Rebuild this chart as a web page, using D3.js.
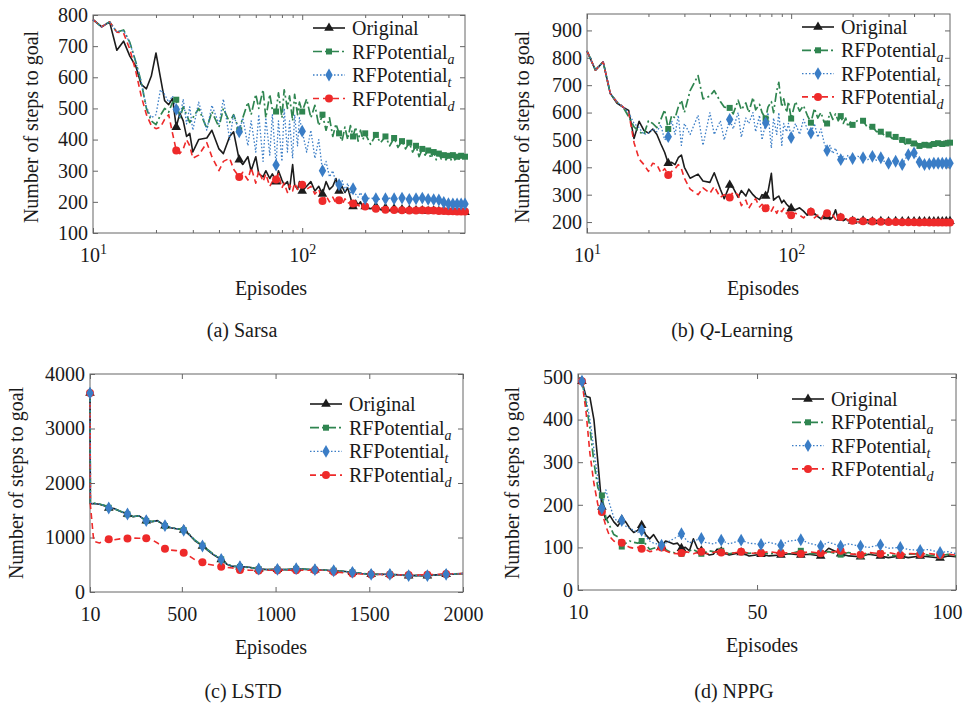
<!DOCTYPE html>
<html>
<head>
<meta charset="utf-8">
<script src="https://cdnjs.cloudflare.com/ajax/libs/d3/7.8.5/d3.min.js"></script>
<style>
body { margin: 0; background: #fff; }
text { font-family: "Liberation Serif", "Times New Roman", serif; fill: #1a1a1a; }
</style>
</head>
<body>
<svg id="chart" width="964" height="705"></svg>
<script>
// ---- data ----
var seriesNames = ["Original", "RFPotential", "RFPotential", "RFPotential"];
var seriesSubs = ["", "a", "t", "d"];

// (a) Sarsa and (b) Q-Learning share the same episode samples
var epsAB = [10,11,12,13,14,15,16,17,18,19,20,21,22,23,24,25,26,27,28,29,30,
	32,35,37,40,42,45,47,50,52,55,57,60,62,65,67,70,72,75,77,80,82,85,87,90,92,95,97,100,
	105,110,115,120,125,130,135,140,145,150,155,160,165,170,175,180,185,190,195,200,
	212,225,237,250,262,275,287,300,312,325,337,350,362,375,387,400,412,425,437,450,462,475,487,500,512,525,537,550,562,575,587,600];
var marksAB = [25,50,75,100,125,150,175,200,225,250,275,300,325,350,375,400,425,450,475,500,525,550,575,600];

var sarsaOriginal = [785,762,778,687,716,668,636,577,563,604,678,600,525,512,532,440,485,460,410,420,360,
	400,405,430,370,355,410,425,335,320,345,300,345,290,280,300,275,290,265,300,270,255,265,240,320,255,240,265,235,
	250,265,235,250,225,265,240,250,275,235,250,230,245,215,185,205,190,200,180,185,
	178,185,175,180,172,178,170,175,170,174,168,172,168,172,166,170,167,171,166,170,167,170,165,169,166,170,165,168,164,168,165,167];
var sarsaA = [785,762,778,745,752,712,650,585,500,460,448,478,500,488,520,528,470,505,480,455,470,
	500,435,490,440,500,455,480,430,470,520,480,545,500,560,470,545,495,490,550,470,560,500,540,460,545,480,520,490,
	530,470,510,445,480,430,470,410,450,420,395,440,400,445,410,440,395,430,400,420,
	385,415,390,410,380,405,375,395,370,390,360,380,345,370,350,365,340,360,335,355,338,350,335,348,332,350,335,345,338,348,340,345];
var sarsaT = [785,762,778,745,750,710,650,585,505,470,480,560,545,520,540,497,470,530,450,505,430,
	520,430,510,450,530,400,480,425,470,380,460,360,480,330,470,350,480,318,460,330,500,360,460,340,480,380,470,427,
	360,430,340,400,300,330,280,300,260,255,270,235,260,225,242,225,215,230,212,210,
	212,210,208,210,212,210,208,212,210,208,212,210,208,212,210,208,210,207,210,206,200,198,196,194,195,193,194,193,194,193,194,193];
var sarsaD = [785,762,778,745,742,690,620,540,480,445,435,440,465,480,420,365,355,370,400,380,340,
	350,390,345,300,330,340,305,280,295,270,310,260,300,265,290,250,265,272,290,245,260,230,255,235,260,240,255,255,
	240,250,225,240,203,220,200,215,195,205,190,210,195,200,195,185,192,180,188,185,
	180,178,182,175,178,174,176,173,175,172,174,172,170,173,170,172,170,172,169,171,169,171,168,170,168,170,168,169,167,169,168,169];

var qOriginal = [825,755,785,670,635,620,608,505,568,535,525,540,520,485,455,415,418,410,435,445,400,
	360,375,350,345,380,320,285,335,325,290,315,295,320,300,290,282,300,295,310,378,280,290,295,270,280,265,258,250,
	245,252,240,225,235,232,220,212,225,220,210,218,245,210,215,205,212,205,208,204,
	210,205,208,202,206,203,207,202,205,203,206,202,205,203,206,202,205,203,206,202,205,203,205,202,205,203,205,202,205,203,205,203];
var qA = [825,755,785,670,639,621,585,548,530,520,570,560,545,575,610,540,590,580,620,645,600,
	680,735,650,660,680,640,620,617,595,645,610,635,600,655,610,630,600,578,620,640,600,680,710,620,650,600,640,578,
	640,605,625,590,563,615,580,600,565,560,600,575,595,570,587,560,580,548,565,555,
	572,570,545,548,530,530,515,520,505,511,495,500,485,495,480,487,490,478,494,482,490,480,494,485,495,488,494,485,492,487,495,490];
var qT = [825,755,785,670,639,621,600,560,545,520,525,540,530,555,500,512,570,520,590,480,560,
	520,590,480,600,520,570,500,575,540,600,510,580,560,600,530,590,500,562,600,470,580,520,600,480,560,530,560,509,
	560,520,575,540,525,560,510,540,490,461,480,450,470,440,428,440,425,445,430,432,
	440,435,428,440,425,435,420,415,425,422,415,410,430,446,450,452,435,419,420,410,415,412,418,415,412,415,410,415,412,415,413,415];
var qD = [825,755,785,670,639,621,600,490,430,410,385,415,410,380,395,372,385,395,410,395,360,
	320,300,325,305,330,290,300,290,310,300,260,280,250,275,285,255,265,250,262,240,255,232,248,238,250,230,240,225,
	232,225,215,230,238,215,225,210,230,232,212,225,210,222,218,208,215,205,210,205,
	200,203,200,202,198,201,198,200,198,200,197,199,197,199,197,199,197,198,197,199,196,198,197,198,196,198,197,198,196,198,197,198];

// (c) LSTD
var epsC = [10,12,30,60,90,110,140,170,210,240,270,310,340,370,410,440,470,510,540,570,610,640,670,710,740,770,810,860,910,960,
	1010,1060,1110,1160,1210,1260,1310,1360,1410,1460,1510,1560,1610,1660,1710,1760,1810,1860,1910,1960,2000];
var marksC = [10,110,210,310,410,510,610,710,810,910,1010,1110,1210,1310,1410,1510,1610,1710,1810,1910];
var lstdOriginal = [3650,1620,1625,1610,1580,1540,1530,1480,1430,1380,1400,1310,1290,1310,1215,1180,1160,1140,1050,940,845,760,680,595,510,470,465,455,422,410,
	416,410,428,415,410,405,390,380,361,340,324,325,324,315,300,305,300,315,324,330,340];
var lstdA = [3650,1625,1630,1615,1585,1545,1525,1485,1425,1385,1395,1305,1295,1305,1210,1185,1165,1135,1060,950,850,770,690,600,515,475,460,450,420,412,
	414,412,425,418,408,402,392,378,360,342,326,322,322,312,302,302,302,312,322,332,338];
var lstdT = [3650,1620,1620,1612,1582,1540,1528,1482,1432,1382,1398,1309,1292,1308,1217,1182,1162,1131,1055,945,843,765,685,598,512,472,465,452,422,411,
	416,411,428,416,410,404,391,379,361,341,324,324,324,313,300,303,300,314,324,331,339];
var lstdD = [3650,1600,930,900,940,968,960,975,980,990,985,985,960,900,792,770,760,719,660,590,544,510,490,465,452,440,404,400,395,398,
	400,402,400,402,400,398,370,355,340,330,320,320,318,315,310,310,318,322,330,335,340];

// (d) NPPG
var epsD = [6,7,8,9,10,11,12,13,14,15,16,17,18,19,20,21,22,23,24,25,26,27,28,29,30,31,32,33,34,35,36,37,38,39,40,
	41,43,46,48,51,53,56,58,61,63,66,68,71,73,76,78,81,83,86,88,91,93,96,98,100];
var marksD = [6,11,16,21,26,31,36,41,46,51,56,61,66,71,76,81,86,91,96];
var nppgOriginal = [490,455,452,400,300,195,165,175,160,150,165,160,145,135,140,152,130,120,130,115,103,115,112,108,110,98,100,92,120,98,92,88,82,84,96,
	90,82,88,80,84,80,82,85,82,84,80,98,85,80,78,84,80,76,80,76,80,78,75,80,78];
var nppgA = [490,440,380,300,240,222,170,150,130,125,102,110,115,112,110,115,108,95,98,100,103,95,90,88,85,85,88,92,95,90,85,88,92,90,88,
	92,85,90,86,88,85,88,84,92,85,86,90,83,88,80,85,86,82,80,84,85,82,80,84,80];
var nppgT = [490,450,400,330,260,192,235,200,170,160,163,150,145,140,135,140,125,115,110,108,105,110,115,120,125,132,120,110,115,118,121,112,110,108,112,
	117,108,117,110,107,112,105,115,118,110,103,112,103,108,103,100,106,98,100,95,93,95,88,90,85];
var nppgD = [490,420,320,250,200,183,150,125,115,110,111,105,100,98,100,97,95,90,92,95,100,92,88,86,85,87,90,88,85,88,90,86,85,88,90,
	88,85,90,86,87,90,86,88,85,90,86,88,92,85,83,88,85,88,82,86,84,86,82,84,82];

// ---- styles ----
var styles = [
	{ color: "#1c1c1c", dash: null, width: 1.6, symbol: d3.symbolTriangle, size: 40 },
	{ color: "#2f8550", dash: "9,3,2,3", width: 1.7, symbol: d3.symbolSquare, size: 36 },
	{ color: "#3a7dc6", dash: "1.5,2", width: 1.3, symbol: d3.symbolDiamond, size: 48 },
	{ color: "#ee2a2a", dash: "6,4", width: 1.6, symbol: d3.symbolCircle, size: 50 }
];
// draw order, red and blue end up on top
var drawOrder = [0, 1, 3, 2];

var svg = d3.select("#chart");
svg.append("rect").attr("width", 964).attr("height", 705).attr("fill", "#fff");

function drawPanel(p) {
	var g = svg.append("g");
	var x = p.xLog ? d3.scaleLog() : d3.scaleLinear();
	x.domain(p.xDomain).range([p.left, p.right]);
	var y = d3.scaleLinear().domain(p.yDomain).range([p.bottom, p.top]);

	// ticks point inward on all 4 sides
	var bottomAx = g.append("g").attr("transform", "translate(0," + p.bottom + ")")
		.call(d3.axisBottom(x).tickValues(p.xTicks).tickSizeInner(-5).tickSizeOuter(0).tickPadding(0));
	g.append("g").attr("transform", "translate(0," + p.top + ")")
		.call(d3.axisTop(x).tickValues(p.xTicks).tickSizeInner(-5).tickSizeOuter(0).tickFormat(""));
	if (p.xMinor) {
		g.append("g").attr("transform", "translate(0," + p.bottom + ")")
			.call(d3.axisBottom(x).tickValues(p.xMinor).tickSizeInner(-3).tickSizeOuter(0).tickFormat(""));
		g.append("g").attr("transform", "translate(0," + p.top + ")")
			.call(d3.axisTop(x).tickValues(p.xMinor).tickSizeInner(-3).tickSizeOuter(0).tickFormat(""));
	}
	g.append("g").attr("transform", "translate(" + p.left + ",0)")
		.call(d3.axisLeft(y).tickValues(p.yTicks).tickSizeInner(-5).tickSizeOuter(0).tickPadding(5).tickFormat(d3.format("d")));
	g.append("g").attr("transform", "translate(" + p.right + ",0)")
		.call(d3.axisRight(y).tickValues(p.yTicks).tickSizeInner(-5).tickSizeOuter(0).tickFormat(""));

	g.selectAll(".domain").remove();
	g.selectAll(".tick line").attr("stroke", "#666");
	g.selectAll(".tick text").attr("font-size", 20).attr("fill", "#1a1a1a")
		.attr("font-family", "Liberation Serif, Times New Roman, serif");

	bottomAx.selectAll(".tick text").attr("y", 29).attr("dy", null)
		.each(function(d, i) {
			var t = d3.select(this);
			if (p.xLog) {
				t.text("10");
				t.append("tspan").attr("dy", -8).attr("font-size", 14).text(Math.round(Math.log10(d)));
			} else if (p.xLabels) {
				t.text(p.xLabels[i]);
			} else {
				t.text(d3.format("d")(d));
			}
			// last label sits at the right edge of the window
			if (p.lastLabelShift && i === p.xTicks.length - 1) t.attr("dx", p.lastLabelShift);
		});

	// frame
	g.append("rect").attr("x", p.left).attr("y", p.top)
		.attr("width", p.right - p.left).attr("height", p.bottom - p.top)
		.attr("fill", "none").attr("stroke", "#666").attr("stroke-width", 1);

	var line = d3.line().x(function(d) { return x(d.e); }).y(function(d) { return y(d.v); });

	drawOrder.forEach(function(k) {
		var s = styles[k];
		var pts = p.eps.map(function(e, i) { return { e: e, v: p.series[k][i] }; });
		g.append("path").datum(pts).attr("d", line)
			.attr("fill", "none").attr("stroke", s.color).attr("stroke-width", s.width)
			.attr("stroke-dasharray", s.dash).attr("stroke-linejoin", "round");
	});
	drawOrder.forEach(function(k) {
		var s = styles[k];
		var mk = p.marks.filter(function(e) { return p.eps.indexOf(e) >= 0; })
			.map(function(e) { return { e: e, v: p.series[k][p.eps.indexOf(e)] }; });
		g.selectAll(null).data(mk).enter().append("path")
			.attr("d", d3.symbol().type(s.symbol).size(s.size))
			.attr("transform", function(d) { return "translate(" + x(d.e) + "," + y(d.v) + ")"; })
			.attr("fill", s.color);
	});

	// legend
	for (var i = 0; i < 4; i++) {
		var s = styles[i];
		var ly = p.legY + i * p.legStep;
		g.append("line").attr("x1", p.legX).attr("x2", p.legX + 32).attr("y1", ly).attr("y2", ly)
			.attr("stroke", s.color).attr("stroke-width", s.width).attr("stroke-dasharray", s.dash);
		g.append("path").attr("d", d3.symbol().type(s.symbol).size(s.size))
			.attr("transform", "translate(" + (p.legX + 16) + "," + ly + ")").attr("fill", s.color);
		var t = g.append("text").attr("x", p.legX + 39).attr("y", ly + 7).attr("font-size", 20).text(seriesNames[i]);
		if (seriesSubs[i]) {
			t.append("tspan").attr("dy", 5).attr("font-size", 14).attr("font-style", "italic").text(seriesSubs[i]);
		}
	}

	// axis titles + caption
	g.append("text").attr("x", p.titleX).attr("y", p.bottom + 62).attr("text-anchor", "middle")
		.attr("font-size", 20).text("Episodes");
	g.append("text").attr("transform", "translate(" + p.yTitleX + "," + p.yTitleY + ") rotate(-90)")
		.attr("text-anchor", "middle").attr("font-size", 20).text("Number of steps to goal");
	var cap = g.append("text").attr("x", p.capX).attr("y", p.capY).attr("text-anchor", "middle").attr("font-size", 20);
	p.caption(cap);
}

var minorLog = [20,30,40,50,60,70,80,90,200,300,400,500];

drawPanel({
	left: 93, right: 465, top: 15, bottom: 233,
	xLog: true, xDomain: [10, 600], xTicks: [10, 100], xMinor: minorLog,
	yDomain: [100, 800], yTicks: [100,200,300,400,500,600,700,800],
	eps: epsAB, marks: marksAB, series: [sarsaOriginal, sarsaA, sarsaT, sarsaD],
	legX: 313, legY: 28, legStep: 23.5,
	titleX: 271, yTitleX: 38, yTitleY: 127, capX: 242, capY: 337,
	caption: function(t) { t.text("(a) Sarsa"); }
});

drawPanel({
	left: 587, right: 950, top: 14, bottom: 233,
	xLog: true, xDomain: [10, 600], xTicks: [10, 100], xMinor: minorLog,
	yDomain: [160, 960], yTicks: [200,300,400,500,600,700,800,900],
	eps: epsAB, marks: marksAB, series: [qOriginal, qA, qT, qD],
	legX: 802, legY: 27, legStep: 23.3,
	titleX: 763, yTitleX: 529, yTitleY: 127, capX: 732, capY: 337,
	caption: function(t) {
		t.append("tspan").text("(b) ");
		t.append("tspan").attr("font-style", "italic").text("Q");
		t.append("tspan").text("-Learning");
	}
});

drawPanel({
	left: 90, right: 463, top: 374, bottom: 592,
	xLog: false, xDomain: [10, 2000], xTicks: [10, 500, 1000, 1500, 2000],
	yDomain: [0, 4000], yTicks: [0, 1000, 2000, 3000, 4000],
	eps: epsC, marks: marksC, series: [lstdOriginal, lstdA, lstdT, lstdD],
	legX: 310, legY: 404, legStep: 23.7,
	titleX: 271, yTitleX: 23, yTitleY: 483, capX: 243, capY: 698,
	caption: function(t) { t.text("(c) LSTD"); }
});

drawPanel({
	left: 578, right: 956, top: 374, bottom: 590,
	xLog: false, xDomain: [5, 100], xTicks: [5, 50, 100], xLabels: ["10", "50", "100"],
	lastLabelShift: -9,
	yDomain: [0, 507], yTicks: [0, 100, 200, 300, 400, 500],
	eps: epsD, marks: marksD, series: [nppgOriginal, nppgA, nppgT, nppgD],
	legX: 792, legY: 399, legStep: 23.3,
	titleX: 762, yTitleX: 519, yTitleY: 483, capX: 734, capY: 698,
	caption: function(t) { t.text("(d) NPPG"); }
});
</script>
</body>
</html>
